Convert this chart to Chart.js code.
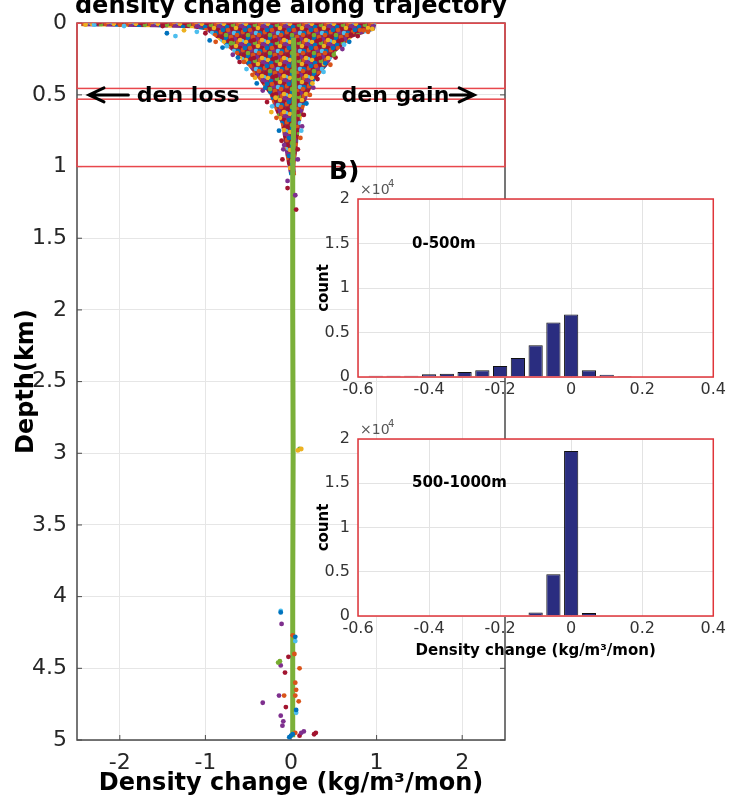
<!DOCTYPE html>
<html>
<head>
<meta charset="utf-8">
<script src="https://cdn.jsdelivr.net/npm/chart.js@4.4.1/dist/chart.umd.min.js"></script>
<style>
  body { margin: 0; background: #fff; }
  #wrap { position: relative; width: 729px; height: 802px; }
  #wrap canvas { position: absolute; }
</style>
</head>
<body>
<div id="wrap">
  <canvas id="main" width="729" height="802" style="left:0;top:0"></canvas>
  <canvas id="hist1" width="429" height="250" style="left:300px;top:160px"></canvas>
  <canvas id="hist2" width="429" height="265" style="left:300px;top:400px"></canvas>
</div>
<script>
// ---- main panel: density change vs depth ----
const xTicks = [-2, -1, 0, 1, 2];
const depthBoxes = [[0, 0.455], [0.53, 1.0]];   // 0-500m and 500-1000m layers (km)

// outline of the dense cloud of points, [x, depth]; down the left side, back up the right
const cloudOutline = [
  [-2.45, 0], [-2.45, 0.022], [-1.6, 0.028], [-1.15, 0.035], [-1.0, 0.05], [-0.88, 0.1],
  [-0.68, 0.2], [-0.5, 0.3], [-0.37, 0.4], [-0.25, 0.5], [-0.19, 0.6], [-0.12, 0.7],
  [-0.09, 0.8], [-0.07, 0.9], [-0.04, 1.0], [-0.02, 1.06],
  [0.06, 1.06], [0.05, 1.0], [0.07, 0.9], [0.09, 0.8], [0.11, 0.7], [0.15, 0.6],
  [0.2, 0.5], [0.28, 0.4], [0.42, 0.3], [0.53, 0.2], [0.72, 0.1], [0.98, 0.05], [1.0, 0]
];

// deep trajectories hug the zero line
const deepTrack = [[0.03, 0.1], [0.04, 0.5], [0.02, 1.0], [0.02, 2.0], [0.025, 3.0], [0.02, 4.0], [0.02, 4.98]];

// individual points outside the dense cloud, by colour
const blueDots = [[-1.45, 0.07], [-0.95, 0.12], [-0.8, 0.17], [-0.4, 0.42], [-0.14, 0.75], [0.68, 0.13],
  [0.18, 0.56], [-0.62, 0.24], [0.4, 0.28], [-0.3, 0.45], [-0.12, 4.11],
  [0.05, 4.28], [0.06, 4.79], [0.0, 4.97], [-0.02, 4.98], [0.02, 4.96]];
const cyanDots = [[-2.3, 0.01], [-1.95, 0.02], [-1.35, 0.09], [-1.1, 0.06], [-0.75, 0.16], [0.62, 0.15],
  [-0.52, 0.32], [0.38, 0.34], [-0.22, 0.58], [0.12, 0.75], [-0.12, 4.1], [0.05, 4.31], [0.06, 4.81]];
const orangeDots = [[-2.0, 0.01], [0.85, 0.05], [0.9, 0.06], [-0.88, 0.13], [-0.45, 0.36], [-0.17, 0.66],
  [0.46, 0.29], [0.22, 0.5], [0.11, 0.8], [-0.55, 0.27], [0.02, 4.27], [0.04, 4.4], [0.1, 4.5],
  [0.05, 4.6], [0.06, 4.65], [0.05, 4.69], [-0.08, 4.69], [0.09, 4.73], [0.05, 4.95]];
const yellowDots = [[-2.4, 0.01], [-1.25, 0.05], [0.95, 0.04], [-0.42, 0.38], [0.25, 0.42], [-0.18, 0.52],
  [-0.23, 0.62], [0.08, 2.98], [0.12, 2.97]];
const purpleDots = [[-0.68, 0.22], [-0.33, 0.47], [-0.09, 0.88], [0.6, 0.18], [0.26, 0.45], [0.13, 0.72],
  [-0.08, 0.85], [0.08, 0.95], [-0.04, 1.1], [0.05, 1.2], [-0.11, 4.19], [-0.12, 4.48],
  [-0.33, 4.74], [-0.14, 4.69], [-0.12, 4.83], [-0.09, 4.87], [-0.1, 4.9], [0.15, 4.94], [0.12, 4.95]];
const greenDots = [[-0.7, 0.14], [0.5, 0.22], [0.1, 2.97], [-0.13, 4.45], [-0.15, 4.46]];
const redDots = [[-1.5, 0.02], [-1.0, 0.07], [-0.6, 0.27], [-0.28, 0.55], [-0.11, 0.82], [0.78, 0.09],
  [0.52, 0.24], [0.31, 0.39], [0.15, 0.64], [0.08, 0.88], [0.7, 0.08], [-0.1, 0.95], [-0.04, 1.15],
  [0.06, 1.3], [-0.03, 4.42], [-0.07, 4.53], [-0.06, 4.77], [0.29, 4.95], [0.27, 4.96], [0.1, 4.97]];

// ---- histograms ----
const histBins1 = [-0.55, -0.5, -0.45, -0.4, -0.35, -0.3, -0.25, -0.2, -0.15, -0.1, -0.05, 0, 0.05, 0.1, 0.15];
const histCounts1 = [150, 150, 150, 300, 375, 560, 750, 1240, 2140, 3570, 6130, 7030, 750, 260, 110];
const histBins2 = [-0.1, -0.05, 0, 0.05];
const histCounts2 = [400, 4710, 18640, 350];

Chart.defaults.font.family = "'DejaVu Sans', sans-serif";
Chart.defaults.color = '#262626';

const C = {
  blue: '#0072bd', orange: '#d95319', yellow: '#edb120', purple: '#7e2f8e',
  green: '#77ac30', cyan: '#4dbeee', red: '#a2142f'
};

// tile of overlapping coloured markers used to fill the dense cloud
function makeCloudPattern() {
  const W = 22, H = 18;
  const tile = document.createElement('canvas');
  tile.width = W; tile.height = H;
  const c = tile.getContext('2d');
  c.fillStyle = '#8c2b4b';
  c.fillRect(0, 0, W, H);
  const dots = [
    [2, 1, 'red'], [6, 2, 'blue'], [11, 1, 'orange'], [15, 3, 'purple'], [19, 1, 'red'],
    [0, 5, 'cyan'], [4, 6, 'yellow'], [9, 5, 'red'], [13, 7, 'green'], [18, 6, 'orange'], [21, 8, 'purple'],
    [2, 10, 'purple'], [7, 9, 'blue'], [11, 11, 'red'], [16, 10, 'yellow'], [20, 12, 'red'],
    [1, 14, 'orange'], [5, 15, 'red'], [9, 14, 'purple'], [14, 15, 'cyan'], [18, 15, 'blue'],
    [8, 12, 'orange'], [12, 4, 'red'], [17, 17, 'orange'], [3, 12, 'blue'], [20, 4, 'yellow'], [6, 17, 'green']
  ];
  for (const [x, y, col] of dots) {
    c.fillStyle = C[col];
    for (const ox of [-W, 0, W]) {
      for (const oy of [-H, 0, H]) {
        c.beginPath();
        c.arc(x + ox, y + oy, 2.3, 0, Math.PI * 2);
        c.fill();
      }
    }
  }
  return c.createPattern(tile, 'repeat');
}

const toPts = arr => arr.map(([x, d]) => ({ x: x, y: d }));

function dotSet(arr, color) {
  return {
    data: toPts(arr),
    backgroundColor: color,
    borderWidth: 0,
    pointRadius: 2.4,
    order: 1
  };
}

// frame, red layer boxes and inner tick marks
const mainFrame = {
  id: 'mainFrame',
  beforeDatasetsDraw(chart) {
    const { ctx, chartArea: a, scales: { x, y } } = chart;
    ctx.save();
    ctx.strokeStyle = '#4a4a4a';
    ctx.lineWidth = 1.5;
    ctx.strokeRect(a.left, a.top, a.right - a.left, a.bottom - a.top);
    ctx.lineWidth = 1;
    y.ticks.forEach(t => {
      const py = y.getPixelForValue(t.value);
      ctx.beginPath();
      ctx.moveTo(a.left, py); ctx.lineTo(a.left + 5, py);
      ctx.moveTo(a.right, py); ctx.lineTo(a.right - 5, py);
      ctx.stroke();
    });
    xTicks.forEach(v => {
      const px = x.getPixelForValue(v);
      ctx.beginPath();
      ctx.moveTo(px, a.bottom); ctx.lineTo(px, a.bottom - 5);
      ctx.stroke();
    });
    ctx.strokeStyle = '#e8474c';
    ctx.lineWidth = 1.5;
    depthBoxes.forEach(([d0, d1]) => {
      const y0 = y.getPixelForValue(d0), y1 = y.getPixelForValue(d1);
      ctx.strokeRect(a.left, y0, a.right - a.left, y1 - y0);
    });
    ctx.restore();
  },
  afterDraw(chart) {
    const { ctx, scales: { x, y } } = chart;
    ctx.save();
    ctx.fillStyle = '#000';
    ctx.textAlign = 'center';
    ctx.textBaseline = 'alphabetic';
    ctx.font = "bold 24px 'DejaVu Sans'";
    ctx.fillText('density change along trajectory', x.getPixelForValue(0), 13);

    // layer annotation with arrows
    const ym = y.getPixelForValue(0.5);
    ctx.textBaseline = 'middle';
    ctx.font = "bold 22px 'DejaVu Sans'";
    ctx.fillText('den loss', x.getPixelForValue(-1.2), ym + 1);
    ctx.fillText('den gain', x.getPixelForValue(1.22), ym + 1);
    ctx.strokeStyle = '#000';
    ctx.lineWidth = 3;
    ctx.lineCap = 'round';
    const arrow = (from, to) => {
      const p0 = x.getPixelForValue(from), p1 = x.getPixelForValue(to);
      const dir = Math.sign(p1 - p0);
      ctx.beginPath();
      ctx.moveTo(p0, ym); ctx.lineTo(p1, ym);
      ctx.moveTo(p1 - dir * 15, ym - 7); ctx.lineTo(p1, ym); ctx.lineTo(p1 - dir * 15, ym + 7);
      ctx.stroke();
    };
    arrow(-1.9, -2.36);
    arrow(1.86, 2.14);

    ctx.textAlign = 'left';
    ctx.font = "bold 25px 'DejaVu Sans'";
    ctx.fillText('B)', 329, 172);
    ctx.restore();
  }
};

new Chart(document.getElementById('main'), {
  type: 'scatter',
  data: {
    datasets: [
      {
        type: 'line',
        data: toPts(cloudOutline),
        showLine: true,
        fill: 'shape',
        backgroundColor: makeCloudPattern(),
        borderWidth: 0,
        borderColor: 'rgba(0,0,0,0)',
        pointRadius: 0,
        tension: 0,
        order: 3
      },
      {
        type: 'line',
        data: toPts(deepTrack),
        showLine: true,
        fill: false,
        borderColor: '#7bb03a',
        borderWidth: 5,
        pointRadius: 0,
        tension: 0,
        order: 2
      },
      dotSet(blueDots, C.blue),
      dotSet(cyanDots, C.cyan),
      dotSet(orangeDots, C.orange),
      dotSet(yellowDots, C.yellow),
      dotSet(greenDots, C.green),
      dotSet(purpleDots, C.purple),
      dotSet(redDots, C.red)
    ]
  },
  options: {
    responsive: false,
    animation: false,
    layout: { padding: { left: 0, right: 224, top: 17, bottom: 0 } },
    plugins: { legend: { display: false }, tooltip: { enabled: false } },
    scales: {
      x: {
        type: 'linear',
        min: -2.5,
        max: 2.5,
        afterBuildTicks: s => { s.ticks = xTicks.map(v => ({ value: v })); },
        afterFit: s => { s.height = 62; },
        ticks: { font: { size: 22 }, padding: 10, maxRotation: 0, callback: v => String(v) },
        grid: { color: '#e6e6e6', drawTicks: false },
        border: { display: false },
        title: {
          display: true,
          text: 'Density change (kg/m³/mon)',
          color: '#000',
          font: { size: 24, weight: 'bold' },
          padding: { top: 0, bottom: 4 }
        }
      },
      y: {
        type: 'linear',
        reverse: true,
        min: 0,
        max: 5,
        afterFit: s => { s.width = 77; },
        ticks: { stepSize: 0.5, font: { size: 22 }, padding: 10, callback: v => String(v) },
        grid: { color: '#e6e6e6', drawTicks: false },
        border: { display: false },
        title: {
          display: true,
          text: 'Depth(km)',
          color: '#000',
          font: { size: 24, weight: 'bold' },
          padding: { top: 12, bottom: 0 }
        }
      }
    }
  },
  plugins: [mainFrame]
});

// ---- inset histograms ----
const insetFrame = {
  id: 'insetFrame',
  beforeDraw(chart) {
    const { ctx, chartArea: a } = chart;
    ctx.save();
    ctx.fillStyle = '#fff';
    ctx.fillRect(a.left, a.top, a.right - a.left, a.bottom - a.top);
    ctx.restore();
  },
  afterDatasetsDraw(chart) {
    const { ctx, chartArea: a } = chart;
    ctx.save();
    ctx.strokeStyle = '#e0353a';
    ctx.lineWidth = 1.5;
    ctx.strokeRect(a.left, a.top, a.right - a.left, a.bottom - a.top);
    ctx.restore();
  },
  afterDraw(chart) {
    const { ctx, chartArea: a } = chart;
    const label = chart.options.plugins.insetFrame.label;
    ctx.save();
    ctx.fillStyle = '#555';
    ctx.textBaseline = 'alphabetic';
    ctx.textAlign = 'left';
    ctx.font = "14px 'DejaVu Sans'";
    ctx.fillText('×10', a.left + 2, a.top - 5);
    ctx.font = "10px 'DejaVu Sans'";
    ctx.fillText('4', a.left + 30, a.top - 12);
    ctx.fillStyle = '#000';
    ctx.textBaseline = 'middle';
    ctx.font = "bold 15px 'DejaVu Sans'";
    ctx.fillText(label.text, a.left + 54, a.top + label.dy);
    ctx.restore();
  }
};

function makeHist(id, bins, counts, label, withTitle) {
  const canvas = document.getElementById(id);
  const axisHeight = canvas.height - (canvas.height === 250 ? 217 : 216);
  return new Chart(canvas, {
    type: 'bar',
    data: {
      datasets: [{
        data: bins.map((b, i) => ({ x: b, y: counts[i] })),
        backgroundColor: '#2a2d80',
        borderColor: '#111',
        borderWidth: 1,
        barPercentage: 0.8,
        categoryPercentage: 1
      }]
    },
    options: {
      responsive: false,
      animation: false,
      layout: { padding: { left: 0, right: 12, top: 39, bottom: 0 } },
      plugins: {
        legend: { display: false },
        tooltip: { enabled: false },
        insetFrame: { label: label }
      },
      scales: {
        x: {
          type: 'linear',
          min: -0.6,
          max: 0.4,
          offset: false,
          afterFit: s => { s.height = axisHeight; },
          ticks: { stepSize: 0.2, font: { size: 16 }, color: '#333', padding: 3, maxRotation: 0 },
          grid: { offset: false, color: '#e3e3e3', drawTicks: false },
          border: { display: false },
          title: {
            display: withTitle,
            text: 'Density change (kg/m³/mon)',
            color: '#000',
            font: { size: 15, weight: 'bold' },
            padding: { top: 0, bottom: 5 }
          }
        },
        y: {
          min: 0,
          max: 20000,
          afterFit: s => { s.width = 58; },
          ticks: { stepSize: 5000, font: { size: 16 }, color: '#333', padding: 8, callback: v => v / 10000 },
          grid: { color: '#e3e3e3', drawTicks: false },
          border: { display: false },
          title: {
            display: true,
            text: 'count',
            color: '#000',
            font: { size: 15, weight: 'bold' },
            padding: { top: 15, bottom: 0 }
          }
        }
      }
    },
    plugins: [insetFrame]
  });
}

makeHist('hist1', histBins1, histCounts1, { text: '0-500m', dy: 45 }, false);
makeHist('hist2', histBins2, histCounts2, { text: '500-1000m', dy: 44 }, true);
</script>
</body>
</html>
